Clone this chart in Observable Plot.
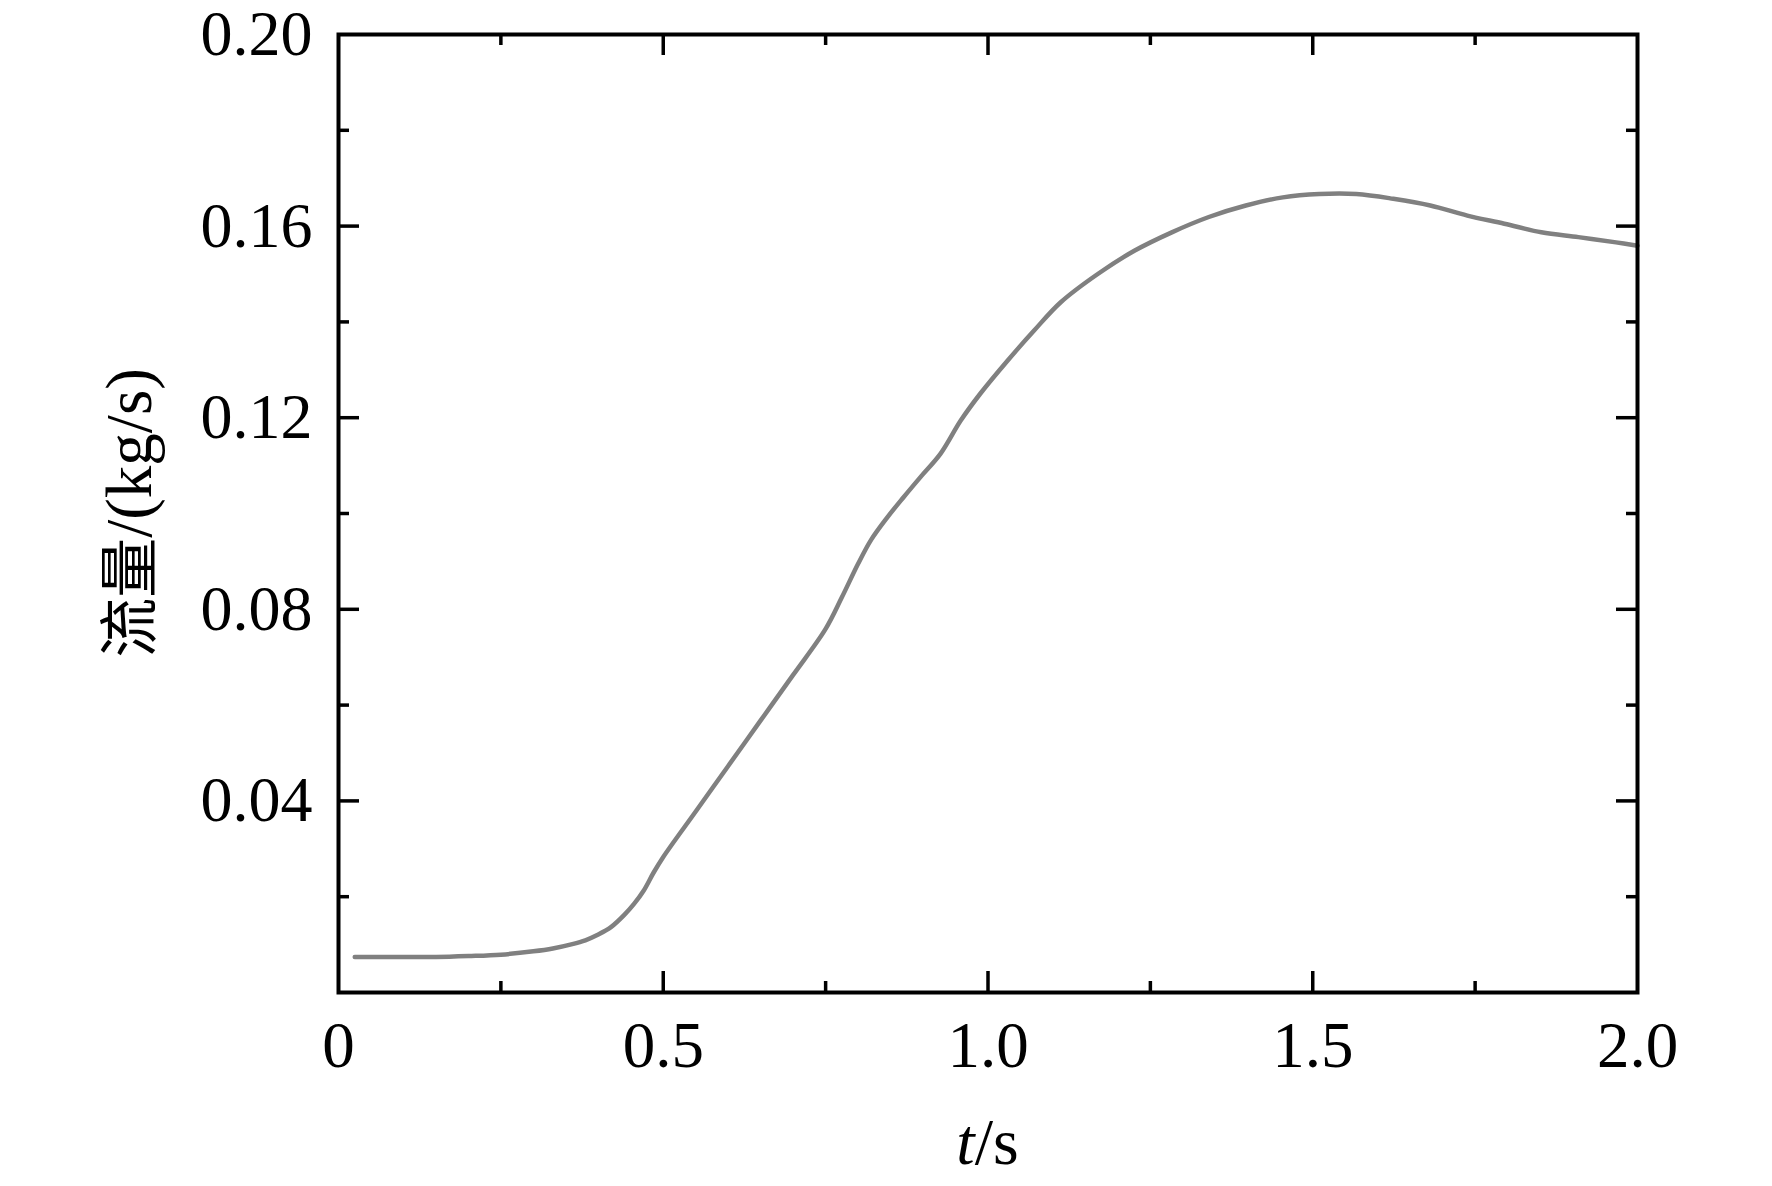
<!DOCTYPE html>
<html>
<head>
<meta charset="utf-8">
<script src="https://cdn.jsdelivr.net/npm/d3@7"></script>
<script src="https://cdn.jsdelivr.net/npm/@observablehq/plot@0.6"></script>
<style>
  html, body { margin: 0; padding: 0; background: #fff; }
  #chart svg { display: block; overflow: visible; }
</style>
</head>
<body>
<div id="chart"></div>
<script>
// time (s)
const times = [0.025, 0.1, 0.15, 0.2, 0.25, 0.30, 0.33, 0.36, 0.38, 0.40, 0.42, 0.44, 0.455, 0.47, 0.485,
  0.50, 0.55, 0.60, 0.65, 0.70, 0.75, 0.775, 0.80, 0.82, 0.845, 0.87, 0.896, 0.927, 0.958, 0.988,
  1.03, 1.071, 1.112, 1.169, 1.226, 1.283, 1.34, 1.397, 1.454, 1.51, 1.567, 1.624, 1.681, 1.738,
  1.795, 1.852, 1.909, 1.967, 2.0];
// flow (kg/s)
const flows = [0.0074, 0.0074, 0.0074, 0.0076, 0.0079, 0.0086, 0.0092, 0.0101, 0.0109, 0.0121, 0.0137, 0.0162, 0.0185, 0.0213, 0.0250,
  0.0283, 0.0378, 0.0473, 0.0568, 0.0663, 0.0759, 0.0825, 0.0895, 0.0945, 0.0992, 0.1034, 0.1076, 0.1125, 0.1194, 0.1250,
  0.1319, 0.1382, 0.1441, 0.1500, 0.1549, 0.1587, 0.1619, 0.1643, 0.1660, 0.1667, 0.1667, 0.1657, 0.1643, 0.1622,
  0.1605, 0.1587, 0.1577, 0.1566, 0.1559];

const xLabelTicks = [0, 0.5, 1.0, 1.5, 2.0];
const xMajorTicks = [0.5, 1.0, 1.5];
const xMinorTicks = [0.25, 0.75, 1.25, 1.75];
const yLabelTicks = [0.04, 0.08, 0.12, 0.16, 0.20];
const yMajorTicks = [0.04, 0.08, 0.12, 0.16];
const yMinorTicks = [0.02, 0.06, 0.10, 0.14, 0.18];

const data = times.map((t, i) => ({t, v: flows[i]}));

const W = 1772, H = 1186;
const mL = 338, mR = 135, mT = 34, mB = 194;
const fw = W - mL - mR, fh = H - mT - mB;
const major = 21, minor = 11;
const serif = "'Liberation Serif', 'Times New Roman', Times, serif";

const plot = Plot.plot({
  width: W,
  height: H,
  marginLeft: mL,
  marginRight: mR,
  marginTop: mT,
  marginBottom: mB,
  style: {fontFamily: serif, fontSize: "64px", color: "black", background: "white", overflow: "visible"},
  x: {domain: [0, 2], label: null},
  y: {domain: [0, 0.2], label: null},
  marks: [
    Plot.axisX({ticks: xLabelTicks, tickSize: 0, tickPadding: 28, label: null, fontSize: 65,
      tickFormat: d => d === 0 ? "0" : d.toFixed(1)}),
    Plot.axisY({ticks: yLabelTicks, tickSize: 0, tickPadding: 26, label: null,
      tickFormat: d => d.toFixed(2)}),
    Plot.line(data, {x: "t", y: "v", stroke: "#808080", strokeWidth: 4.5, curve: "catmull-rom"}),
    // bottom ticks
    Plot.tickX(xMajorTicks, {x: d => d, insetTop: fh - major, stroke: "black", strokeWidth: 3.5}),
    Plot.tickX(xMinorTicks, {x: d => d, insetTop: fh - minor, stroke: "black", strokeWidth: 3.5}),
    // top ticks
    Plot.tickX(xMajorTicks, {x: d => d, insetBottom: fh - major, stroke: "black", strokeWidth: 3.5}),
    Plot.tickX(xMinorTicks, {x: d => d, insetBottom: fh - minor, stroke: "black", strokeWidth: 3.5}),
    // left ticks
    Plot.tickY(yMajorTicks, {y: d => d, insetRight: fw - major, stroke: "black", strokeWidth: 3.5}),
    Plot.tickY(yMinorTicks, {y: d => d, insetRight: fw - minor, stroke: "black", strokeWidth: 3.5}),
    // right ticks
    Plot.tickY(yMajorTicks, {y: d => d, insetLeft: fw - major, stroke: "black", strokeWidth: 3.5}),
    Plot.tickY(yMinorTicks, {y: d => d, insetLeft: fw - minor, stroke: "black", strokeWidth: 3.5}),
    Plot.frame({stroke: "black", strokeWidth: 4})
  ]
});

document.getElementById("chart").appendChild(plot);

// Axis titles with mixed styles
const svg = d3.select(plot);
const xt = svg.append("text")
  .attr("x", mL + fw / 2)
  .attr("y", 1164)
  .attr("text-anchor", "middle")
  .attr("font-family", serif)
  .attr("font-size", 66)
  .attr("fill", "black");
xt.append("tspan").attr("font-style", "italic").text("t");
xt.append("tspan").text("/s");

const yt = svg.append("text")
  .attr("transform", `translate(151, ${mT + fh / 2}) rotate(-90)`)
  .attr("text-anchor", "middle")
  .attr("font-family", serif)
  .attr("font-size", 65)
  .attr("fill", "black");
yt.append("tspan").attr("font-family", "'Noto Sans CJK SC', sans-serif").attr("font-size", 60).text("流量");
yt.append("tspan").text("/(kg/s)");
</script>
</body>
</html>
